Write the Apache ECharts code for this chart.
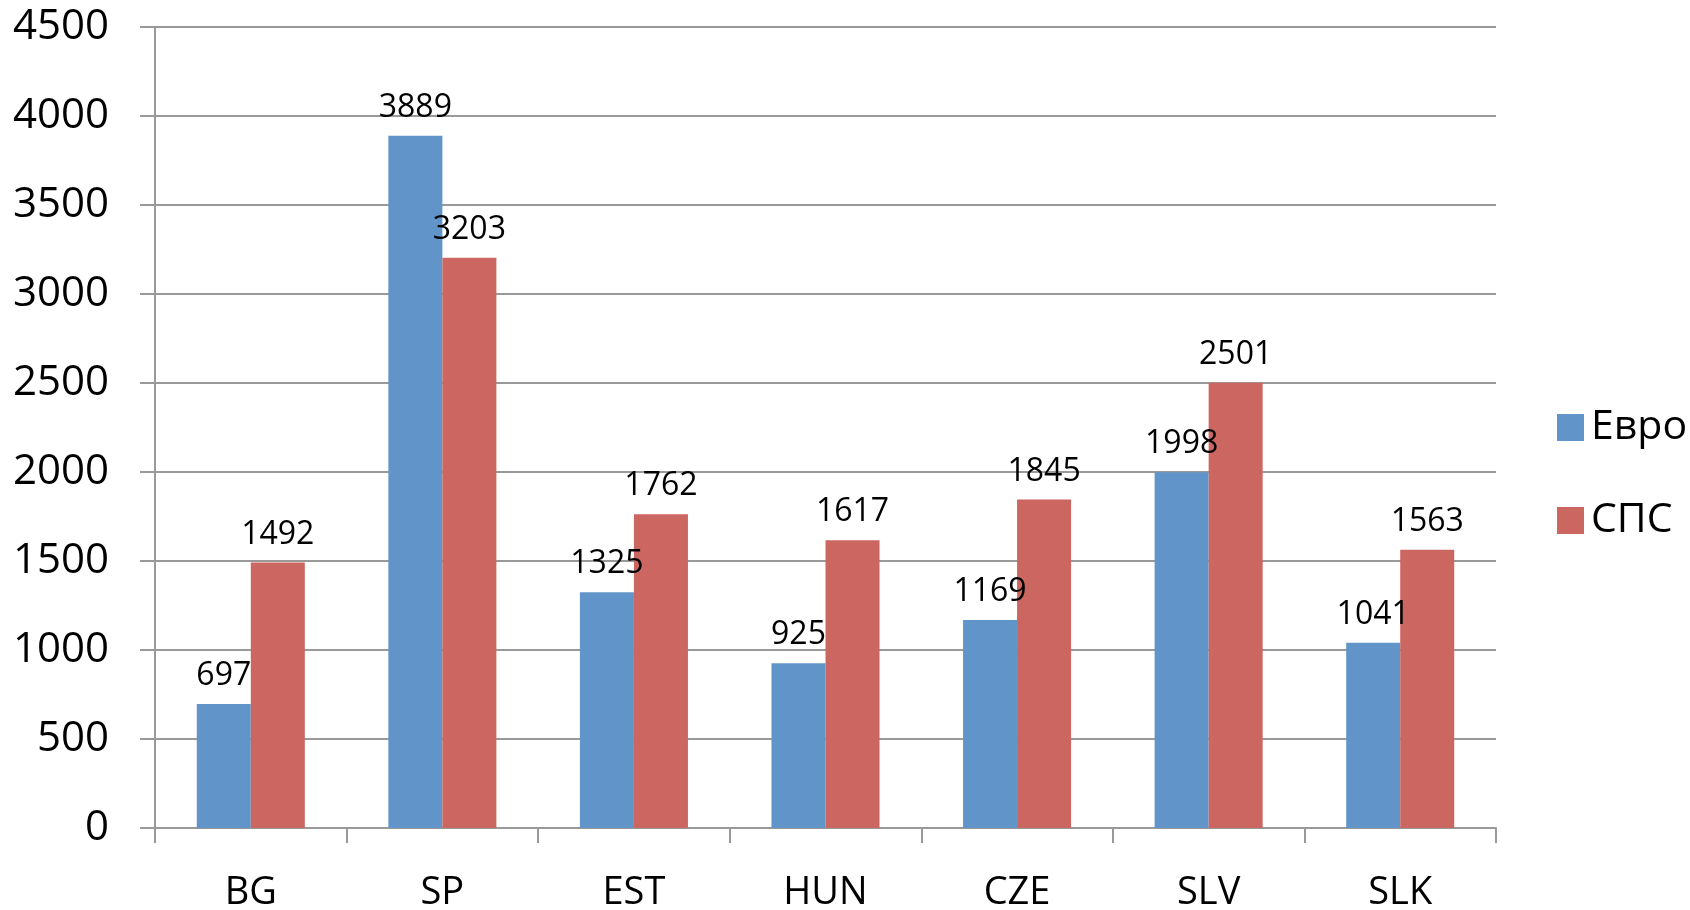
<!DOCTYPE html>
<html><head><meta charset="utf-8">
<script src="https://cdn.jsdelivr.net/npm/echarts@6/dist/echarts.min.js"></script>
<style>html,body{margin:0;padding:0;background:#fff}#c{width:1690px;height:910px}</style>
</head><body><div id="c"></div>
<script>
const categories = ['BG','SP','EST','HUN','CZE','SLV','SLK'];
const seriesNames = ['Евро','СПС'];
const evro = [697,3889,1325,925,1169,1998,1041];
const sps = [1492,3203,1762,1617,1845,2501,1563];
const yMin = 0, yMax = 4500, yStep = 500;

const font = 'Open Sans';
const chart = echarts.init(document.getElementById('c'));
const lbl = {show:true, position:'top', distance:12, color:'#000', fontFamily:font, fontSize:32};
chart.setOption({
  animation:false,
  grid:{left:155, right:194, top:27, bottom:82, containLabel:false, outerBoundsMode:'none'},
  legend:{
    orient:'vertical', left:1552, top:402, itemWidth:27, itemHeight:27, itemGap:52,
    icon:'rect',
    textStyle:{fontFamily:font, fontSize:41, color:'#000', padding:[0,0,0,2]},
    data:seriesNames
  },
  xAxis:{
    type:'category', data:categories, boundaryGap:true,
    axisLine:{lineStyle:{color:'#999', width:2}},
    axisTick:{show:true, length:15, lineStyle:{color:'#999', width:2}},
    axisLabel:{fontFamily:font, fontSize:38, color:'#000', margin:46}
  },
  yAxis:{
    type:'value', min:yMin, max:yMax, interval:yStep,
    axisLine:{show:true, lineStyle:{color:'#999', width:2}},
    axisTick:{show:true, length:15, lineStyle:{color:'#999', width:2}},
    splitLine:{lineStyle:{color:'#999', width:2}},
    axisLabel:{fontFamily:font, fontSize:42, color:'#000', margin:46, padding:[8,0,0,0],
               formatter:function(v){return String(v);}}
  },
  series:[
    {name:seriesNames[0], type:'bar', data:evro, barGap:'0%', barCategoryGap:'43.6%',
     itemStyle:{color:'#6195C9'}, label:lbl},
    {name:seriesNames[1], type:'bar', data:sps, barGap:'0%', barCategoryGap:'43.6%',
     itemStyle:{color:'#CC6660'}, label:lbl}
  ]
});
</script></body></html>
